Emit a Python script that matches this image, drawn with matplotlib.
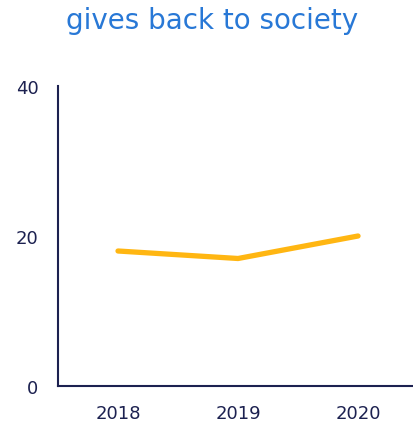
import matplotlib
matplotlib.use("Agg")
import matplotlib.pyplot as plt

years = ["2018", "2019", "2020"]
values = [18, 17, 20]
yticks = [0, 20, 40]
title = "gives back to society"

W, H = 413, 431
fig = plt.figure(figsize=(W / 100, H / 100), dpi=100)
ax = fig.add_axes([58 / W, 1 - 387 / H, (W - 58) / W, (387 - 87) / H])

navy = "#1c2150"
x = list(range(len(years)))
ax.plot(x, values, color="#FFB612", lw=3.8, solid_capstyle="round", solid_joinstyle="round")

ax.set_xlim(-0.5, 2.458)
ax.set_ylim(0, 40)
ax.set_yticks(yticks)
ax.set_yticklabels([str(v) for v in yticks])
ax.set_xticks(x)
ax.set_xticklabels(years)

for s in ["top", "right"]:
    ax.spines[s].set_visible(False)
for s in ["left", "bottom"]:
    ax.spines[s].set_color(navy)
    ax.spines[s].set_linewidth(1.5)

ax.tick_params(axis="both", length=0, colors=navy, labelsize=13)
ax.tick_params(axis="y", pad=14)
ax.tick_params(axis="x", pad=13)

fig.text(212 / W, 1 - 21 / H, title, ha="center", va="center", color="#2878D6", fontsize=20)

fig.savefig("out.png", dpi=100)
